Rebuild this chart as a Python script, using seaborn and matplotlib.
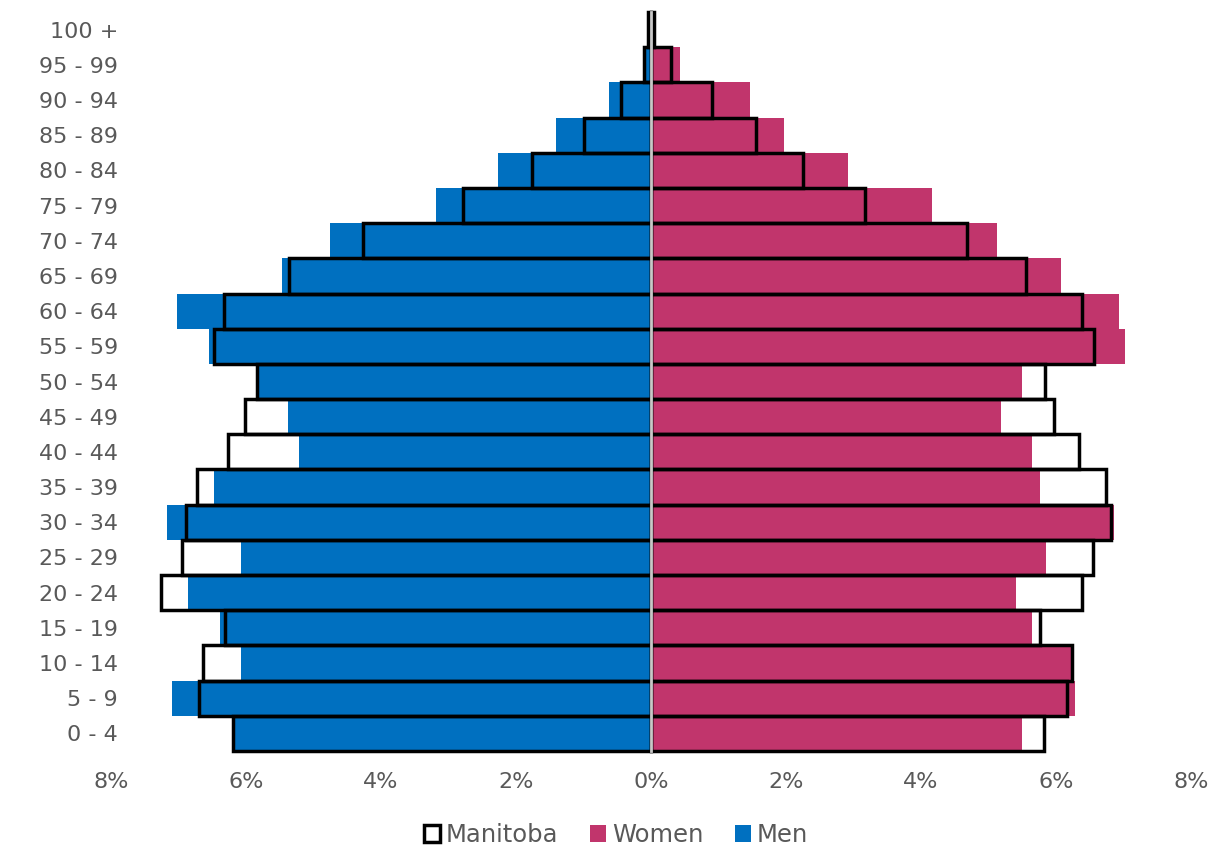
import numpy as np
import seaborn as sns
import matplotlib.pyplot as plt
from matplotlib.patches import Patch
from matplotlib.ticker import FuncFormatter

# age groups, top to bottom
ages = ["100 +", "95 - 99", "90 - 94", "85 - 89", "80 - 84", "75 - 79", "70 - 74",
        "65 - 69", "60 - 64", "55 - 59", "50 - 54", "45 - 49", "40 - 44", "35 - 39",
        "30 - 34", "25 - 29", "20 - 24", "15 - 19", "10 - 14", "5 - 9", "0 - 4"]

# % of population
men = [0.02, 0.08, 0.62, 1.41, 2.26, 3.19, 4.76, 5.46, 7.02, 6.55, 5.82, 5.38, 5.22, 6.47,
       7.17, 6.08, 6.86, 6.39, 6.08, 7.09, 6.18]
women = [0.02, 0.43, 1.46, 1.97, 2.92, 4.16, 5.12, 6.07, 6.94, 7.02, 5.49, 5.19, 5.64, 5.77,
         6.86, 5.85, 5.41, 5.64, 6.22, 6.28, 5.49]
mb_men = [0.045, 0.11, 0.44, 1.00, 1.77, 2.79, 4.26, 5.36, 6.33, 6.48, 5.83, 6.01, 6.27, 6.72,
          6.89, 6.95, 7.26, 6.31, 6.64, 6.70, 6.19]
mb_women = [0.04, 0.29, 0.90, 1.56, 2.25, 3.17, 4.68, 5.56, 6.39, 6.56, 5.84, 5.97, 6.34, 6.74,
            6.81, 6.55, 6.39, 5.77, 6.23, 6.17, 5.82]

BLUE = "#0070C0"
PINK = "#C1356C"
GREY = "#595959"

plt.rcParams['font.family'] = ['DejaVu Sans']

fig = plt.figure(figsize=(12.17, 8.49), dpi=100)
ax = fig.add_axes([111 / 1217, 1 - 751 / 849, 1080 / 1217, 739 / 849])

sns.barplot(x=-np.array(men), y=ages, order=ages, color=BLUE, saturation=1,
            width=1.0, errorbar=None, ax=ax)
sns.barplot(x=women, y=ages, order=ages, color=PINK, saturation=1,
            width=1.0, errorbar=None, ax=ax)
sns.barplot(x=-np.array(mb_men), y=ages, order=ages, color="black", fill=False,
            linewidth=2.5, width=1.0, errorbar=None, ax=ax)
sns.barplot(x=mb_women, y=ages, order=ages, color="black", fill=False,
            linewidth=2.5, width=1.0, errorbar=None, ax=ax)
for p in ax.patches:
    p.set_clip_on(False)

ax.axvline(0, color="#c8c8c8", lw=2, zorder=10, clip_on=False)

ax.set_xlim(-8, 8)
ax.set_ylim(20.5, -0.5)
ax.set_xticks(np.arange(-8, 9, 2))
ax.xaxis.set_major_formatter(FuncFormatter(lambda v, pos: f"{abs(v):.0f}%"))
ax.tick_params(axis='x', length=0, pad=15, labelsize=16, labelcolor=GREY)
ax.tick_params(axis='y', length=0, pad=-5, labelsize=16, labelcolor=GREY)
ax.set_xlabel("")
ax.set_ylabel("")
for s in ax.spines.values():
    s.set_visible(False)

handles = [Patch(facecolor="white", edgecolor="black", linewidth=2.5, label="Manitoba"),
           Patch(facecolor=PINK, label="Women"),
           Patch(facecolor=BLUE, label="Men")]
fig.legend(handles=handles, loc="center", bbox_to_anchor=(616 / 1217, 1 - 835 / 849),
           ncol=3, frameon=False, fontsize=17.5, labelcolor=GREY,
           handlelength=0.65, handleheight=0.65, handletextpad=0.25, columnspacing=1.3)

fig.savefig("out.png", dpi=100)
